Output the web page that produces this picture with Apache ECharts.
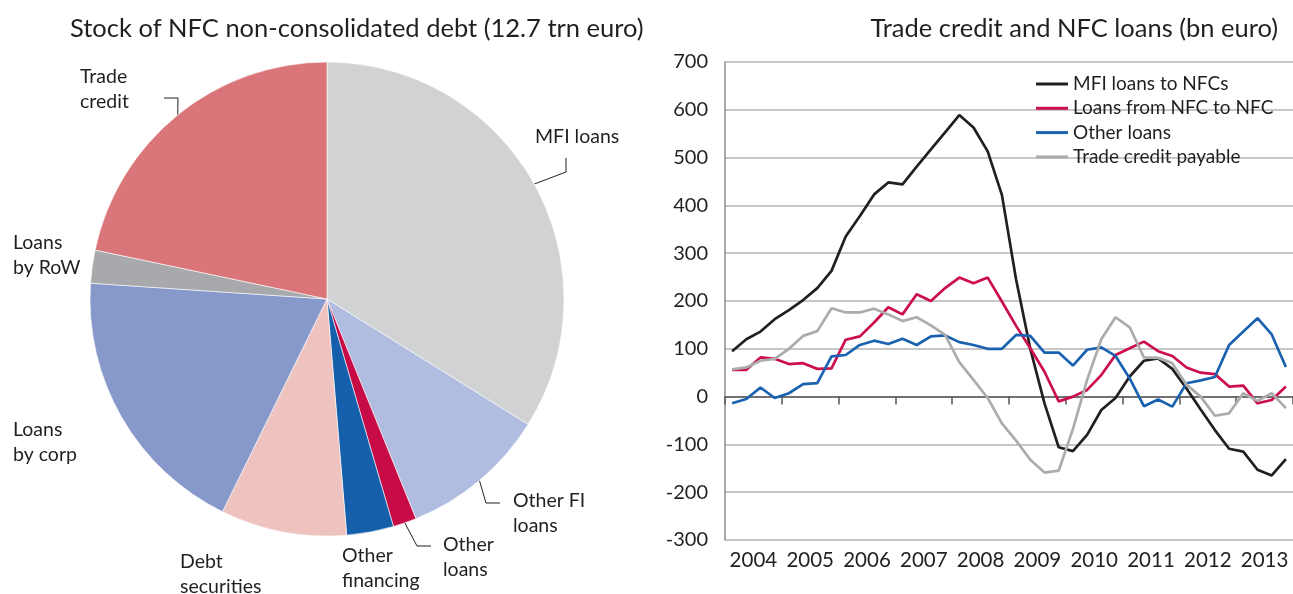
<!DOCTYPE html>
<html>
<head>
<meta charset="utf-8">
<script src="https://cdn.jsdelivr.net/npm/echarts@6/dist/echarts.min.js"></script>
<style>
html, body { margin: 0; padding: 0; background: #fff; }
#main { width: 1293px; height: 594px; }
</style>
</head>
<body>
<div id="main"></div>
<script>
// pie: shares of the 12.7 trn stock (percent)
var debtNames = ['MFI loans', 'Other FI\nloans', 'Other\nloans', 'Other\nfinancing', 'Debt\nsecurities', 'Loans\nby corp', 'Loans\nby RoW', 'Trade\ncredit'];
var debtShares = [33.9, 10.0, 1.6, 3.2, 8.6, 18.8, 2.25, 21.7];
var debtColors = ['#d1d2d4', '#b1bde0', '#c70b46', '#155fab', '#eec2bf', '#8799cb', '#a7a9ac', '#da7679'];

// line chart: quarterly, 2004Q1 - 2013Q4 (bn euro)
var years = ['2004', '2005', '2006', '2007', '2008', '2009', '2010', '2011', '2012', '2013'];
var mfiLoans = [95, 120, 136, 162, 181, 202, 227, 263, 335, 378,
    423, 448, 444, 481, 517, 553, 589, 563, 513, 422,
    245, 100, -14, -106, -114, -80, -28, -3, 42, 75,
    80, 58, 17, -27, -70, -109, -115, -153, -165, -131];
var nfcLoans = [56, 56, 82, 79, 68, 70, 58, 59, 119, 126,
    155, 187, 172, 214, 200, 227, 249, 237, 249, 199,
    148, 101, 52, -10, 0, 14, 45, 87, 101, 115,
    95, 85, 61, 50, 47, 21, 23, -14, -7, 21];
var otherLoans = [-14, -5, 19, -3, 7, 26, 28, 84, 87, 108,
    117, 110, 121, 108, 126, 128, 114, 108, 100, 100,
    129, 127, 92, 92, 65, 98, 103, 85, 38, -20,
    -6, -21, 28, 34, 41, 108, 136, 164, 130, 62];
var tradeCredit = [57, 61, 75, 79, 100, 127, 137, 185, 176, 176,
    184, 172, 158, 166, 149, 129, 72, 35, -3, -56,
    -92, -132, -159, -155, -68, 35, 120, 166, 145, 82,
    81, 70, 25, 0, -40, -35, 7, -9, 7, -24];

var quarters = [];
years.forEach(function (y) {
    for (var q = 1; q <= 4; q++) quarters.push(y + 'Q' + q);
});

var textColor = '#231f20';
var font = 'Lato';

// where the pie labels sit, and the bends of their leader lines
var pieLabelPos = {
    0: { x: 535, y: 124, line: [[566, 172], [566, 158]] },
    1: { x: 513, y: 488, line: [[486, 503], [500, 503]] },
    2: { x: 443, y: 532, line: [[417, 546], [431, 546]] },
    3: { x: 342, y: 543 },
    4: { x: 180, y: 549 },
    5: { x: 13, y: 417 },
    6: { x: 13, y: 230 },
    7: { x: 80, y: 64, line: [[178, 98], [164, 98]] }
};

var myChart = echarts.init(document.getElementById('main'));

var option = {
    animation: false,
    textStyle: { fontFamily: font },
    title: [
        {
            text: 'Stock of NFC non-consolidated debt (12.7 trn euro)',
            left: 65, top: 11,
            textStyle: { fontSize: 25.5, fontWeight: 'normal', color: textColor, fontFamily: font }
        },
        {
            text: 'Trade credit and NFC loans (bn euro)',
            right: 10, top: 11,
            textStyle: { fontSize: 25.5, fontWeight: 'normal', color: textColor, fontFamily: font }
        }
    ],
    legend: {
        orient: 'vertical',
        left: 1031, top: 69,
        icon: 'rect',
        itemWidth: 32, itemHeight: 3, itemGap: 4.3,
        textStyle: { fontSize: 19, color: textColor, lineHeight: 20, fontFamily: font },
        data: ['MFI loans to NFCs', 'Loans from NFC to NFC', 'Other loans', 'Trade credit payable']
    },
    grid: { left: 725, right: -5, top: 62, bottom: 54 },
    xAxis: [
        {
            type: 'category',
            data: quarters,
            boundaryGap: true,
            axisLine: { onZero: true, lineStyle: { color: '#555', width: 1.5 } },
            axisTick: {
                show: true, length: 8, inside: false,
                interval: function (i) { return i % 4 === 0; },
                lineStyle: { color: '#555', width: 1.5 }
            },
            axisLabel: { show: false },
            splitLine: { show: false }
        },
        {
            type: 'category',
            data: years,
            position: 'bottom',
            boundaryGap: true,
            axisLine: { show: false, onZero: false },
            axisTick: { show: false },
            axisLabel: { interval: 0, fontSize: 20.5, color: textColor, margin: 10, fontFamily: font }
        }
    ],
    yAxis: {
        type: 'value',
        min: -300, max: 700, interval: 100,
        axisLine: { show: true, lineStyle: { color: '#8c8c8c', width: 1.5 } },
        axisTick: { show: false },
        axisLabel: { fontSize: 20, color: textColor, margin: 17, fontFamily: font },
        splitLine: { lineStyle: { color: '#b4b4b4', width: 1.5 } }
    },
    series: [
        {
            name: 'debt',
            type: 'pie',
            center: [327, 299],
            radius: 237,
            startAngle: 90,
            clockwise: true,
            avoidLabelOverlap: false,
            itemStyle: { borderColor: '#fff', borderWidth: 0.6 },
            label: {
                show: true, position: 'outside',
                fontSize: 19.5, lineHeight: 25, color: textColor, fontFamily: font,
                formatter: '{b}'
            },
            labelLine: { show: true, smooth: false, lineStyle: { color: textColor, width: 1 } },
            labelLayout: function (params) {
                var p = pieLabelPos[params.dataIndex];
                var out = { x: p.x, y: p.y, align: 'left', verticalAlign: 'top' };
                if (p.line) {
                    out.labelLinePoints = [params.labelLinePoints[0], p.line[0], p.line[1]];
                }
                return out;
            },
            data: debtNames.map(function (n, i) {
                var d = { name: n, value: debtShares[i], itemStyle: { color: debtColors[i] } };
                if (!pieLabelPos[i].line) d.labelLine = { show: false };
                return d;
            })
        },
        {
            name: 'MFI loans to NFCs', type: 'line', xAxisIndex: 0,
            data: mfiLoans, symbol: 'none',
            lineStyle: { color: '#231f20', width: 2.7 }, itemStyle: { color: '#231f20' }
        },
        {
            name: 'Loans from NFC to NFC', type: 'line', xAxisIndex: 0,
            data: nfcLoans, symbol: 'none',
            lineStyle: { color: '#cc0e4a', width: 2.7 }, itemStyle: { color: '#cc0e4a' }
        },
        {
            name: 'Other loans', type: 'line', xAxisIndex: 0,
            data: otherLoans, symbol: 'none',
            lineStyle: { color: '#1a62b0', width: 2.7 }, itemStyle: { color: '#1a62b0' }
        },
        {
            name: 'Trade credit payable', type: 'line', xAxisIndex: 0,
            data: tradeCredit, symbol: 'none',
            lineStyle: { color: '#acacac', width: 2.7 }, itemStyle: { color: '#acacac' }
        }
    ]
};

myChart.setOption(option);
</script>
</body>
</html>
